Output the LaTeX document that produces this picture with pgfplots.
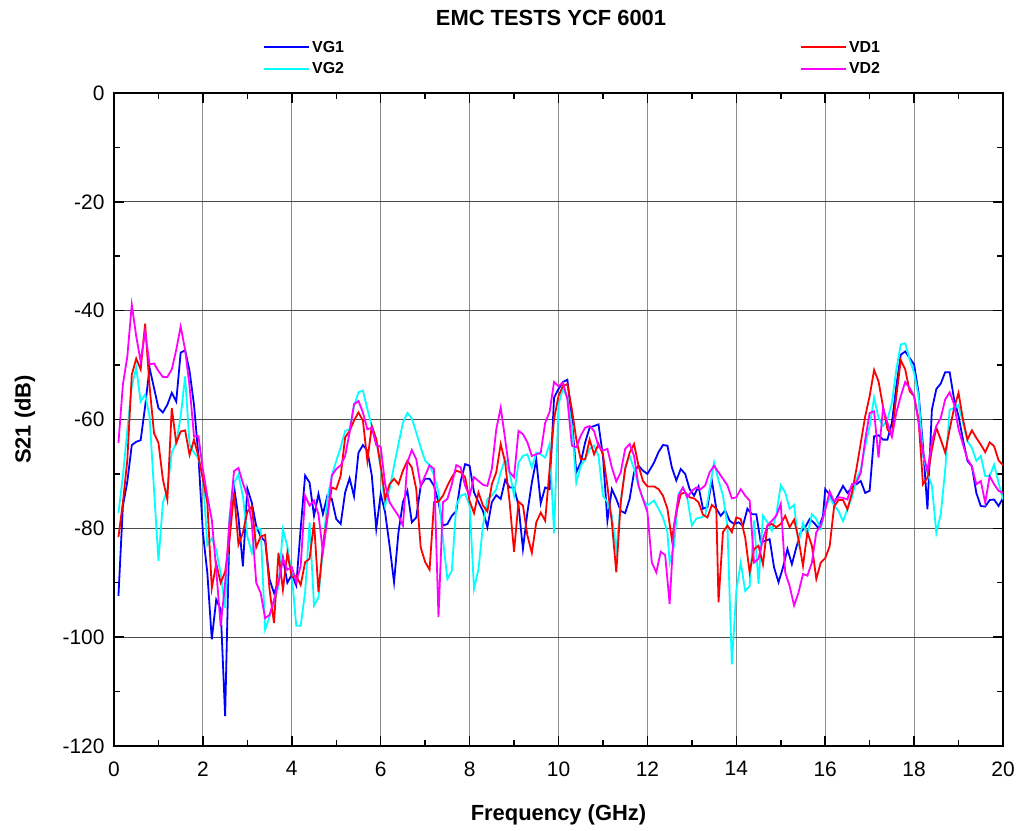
\documentclass[border=0pt]{standalone}
\usepackage{fontspec}
\setmainfont{Liberation Sans}
\usepackage{pgfplots}
\usepackage{pgfplotstable}
\pgfplotsset{compat=1.18}
\definecolor{cone}{RGB}{0,0,255}
\definecolor{ctwo}{RGB}{0,255,255}
\definecolor{cthree}{RGB}{255,0,0}
\definecolor{cfour}{RGB}{255,0,255}

\pgfplotstableread{
x y
0.1 -92.4
0.2 -75.9
0.3 -71.4
0.4 -64.7
0.5 -64.1
0.6 -63.8
0.7 -57.6
0.8 -50.5
0.9 -54.2
1.0 -57.9
1.1 -58.7
1.2 -57.3
1.3 -55.1
1.4 -56.7
1.5 -47.7
1.6 -47.3
1.7 -51.1
1.8 -57.3
1.9 -66.8
2.0 -80.8
2.1 -88.2
2.2 -100.4
2.3 -93.1
2.4 -94.9
2.5 -114.5
2.6 -79
2.7 -72.3
2.8 -78
2.9 -87
3.0 -72.7
3.1 -75.3
3.2 -79.6
3.3 -81.5
3.4 -82.4
3.5 -89.4
3.6 -91.9
3.7 -90
3.8 -85.4
3.9 -90
4.0 -88.5
4.1 -90.5
4.2 -80
4.3 -70.3
4.4 -71.6
4.5 -77.7
4.6 -73.7
4.7 -77.4
4.8 -74
4.9 -74.6
5.0 -78.3
5.1 -79.2
5.2 -73.4
5.3 -70.8
5.4 -74.1
5.5 -66.1
5.6 -64.7
5.7 -65.7
5.8 -70.3
5.9 -80.1
6.0 -73.7
6.1 -77.1
6.2 -83.2
6.3 -89.9
6.4 -80.7
6.5 -75.2
6.6 -73.1
6.7 -78.9
6.8 -78
6.9 -72.2
7.0 -70.9
7.1 -70.9
7.2 -72.2
7.3 -75.2
7.4 -79.5
7.5 -79.2
7.6 -77.7
7.7 -76.8
7.8 -71.3
7.9 -68.2
8.0 -68.5
8.1 -73.4
8.2 -75.2
8.3 -76.8
8.4 -79.8
8.5 -75.2
8.6 -73.9
8.7 -74.6
8.8 -71.1
8.9 -72.5
9.0 -72.5
9.1 -75.8
9.2 -83.8
9.3 -77.1
9.4 -71.6
9.5 -67.4
9.6 -75.4
9.7 -72.5
9.8 -72.8
9.9 -56
10.0 -54.4
10.1 -53.1
10.2 -52.7
10.3 -59.9
10.4 -69.7
10.5 -67.9
10.6 -64.2
10.7 -61.5
10.8 -61.2
10.9 -60.9
11.0 -66.7
11.1 -78.6
11.2 -72.8
11.3 -74.6
11.4 -76.8
11.5 -77.2
11.6 -74.6
11.7 -69.7
11.8 -68.5
11.9 -69.4
12.0 -70
12.15 -67.9
12.25 -66
12.35 -64.7
12.45 -64.8
12.55 -68.8
12.65 -71.2
12.75 -69.1
12.85 -70
12.95 -72.8
13.05 -74
13.15 -72.3
13.25 -76.4
13.35 -76.1
13.45 -71.2
13.55 -76.4
13.65 -77.7
13.75 -76.7
13.85 -78.6
13.95 -79.2
14.05 -78.9
14.15 -79.5
14.25 -76.4
14.35 -77.4
14.45 -77.4
14.55 -82.6
14.65 -82.3
14.75 -82
14.85 -87.2
14.95 -89.9
15.05 -87.2
15.15 -83.8
15.25 -86.6
15.35 -83.5
15.45 -80.7
15.55 -79.8
15.65 -78.3
15.75 -79
15.85 -80
15.95 -77.7
16.0 -72.8
16.1 -73.8
16.2 -75.3
16.3 -73.8
16.4 -72.2
16.5 -73.5
16.6 -72.5
16.7 -71.9
16.8 -71.3
16.9 -73.5
17.0 -73.1
17.1 -63.1
17.2 -62.9
17.3 -63.7
17.4 -63.7
17.5 -60.6
17.6 -53.9
17.7 -48.1
17.8 -47.5
17.9 -48.7
18.0 -49.9
18.1 -55.1
18.2 -64.9
18.3 -76.5
18.4 -58.2
18.5 -54.4
18.6 -53.4
18.7 -51.3
18.8 -51.3
18.9 -56.3
19.0 -59.4
19.1 -63.7
19.2 -67.6
19.3 -68.6
19.4 -73.5
19.5 -75.9
19.6 -76
19.7 -74.8
19.8 -74.7
19.9 -75.9
20.0 -74.4
}\vgone

\pgfplotstableread{
x y
0.1 -77.2
0.2 -70.4
0.3 -61.9
0.4 -53.9
0.5 -50.5
0.6 -56.7
0.7 -55.4
0.8 -59.4
0.9 -72.9
1.0 -86
1.1 -75.3
1.2 -72.9
1.3 -66.1
1.4 -64.3
1.5 -59.4
1.6 -52.1
1.7 -64.6
1.8 -66.1
1.9 -67.1
2.0 -70.4
2.1 -83.1
2.2 -81.8
2.3 -84
2.4 -88.3
2.5 -94.6
2.6 -77.8
2.7 -71.7
2.8 -70.1
2.9 -74.1
3.0 -81.5
3.1 -84.5
3.2 -79.9
3.3 -80.2
3.4 -98.6
3.5 -96.2
3.6 -93.7
3.7 -90.6
3.8 -80.2
3.9 -83.3
4.0 -88.5
4.1 -97.9
4.2 -97.9
4.3 -91.7
4.4 -78.9
4.5 -94.2
4.6 -92.7
4.7 -83.8
4.8 -74.6
4.9 -70.3
5.0 -67.6
5.1 -65.1
5.2 -62.1
5.3 -61.8
5.4 -57.5
5.5 -55
5.6 -54.7
5.7 -58.1
5.8 -61.2
5.9 -63.6
6.0 -69.1
6.1 -75.8
6.2 -72.8
6.3 -68.5
6.4 -64.5
6.5 -60.6
6.6 -58.8
6.7 -59.8
6.8 -62.4
6.9 -65.1
7.0 -67.6
7.1 -68.4
7.2 -70.3
7.3 -73.4
7.4 -82
7.5 -89.3
7.6 -87.8
7.7 -75.8
7.8 -74
7.9 -73.7
8.0 -75.8
8.1 -91.1
8.2 -87.5
8.3 -79.5
8.4 -74.6
8.5 -74
8.6 -72.8
8.7 -69.7
8.8 -67.2
8.9 -69.7
9.0 -74
9.1 -67.9
9.2 -66.7
9.3 -66.4
9.4 -68.8
9.5 -66.1
9.6 -66.4
9.7 -67
9.8 -64.5
9.9 -80.9
10.0 -57.2
10.1 -54.3
10.2 -56
10.3 -61.2
10.4 -71.6
10.5 -68.5
10.6 -67.3
10.7 -65.4
10.8 -64.8
10.9 -66.7
11.0 -74
11.1 -75.2
11.2 -77.7
11.3 -84.1
11.4 -75.2
11.5 -68.8
11.6 -66.7
11.7 -69.1
11.8 -72.2
11.9 -74.6
12.0 -75.8
12.15 -74.9
12.25 -76.4
12.35 -78
12.45 -80.7
12.5 -86.3
12.6 -83.2
12.7 -73.7
12.8 -72.5
12.9 -74.6
13.0 -79.5
13.1 -78.2
13.2 -78
13.3 -77.7
13.4 -72.8
13.5 -67.9
13.6 -71.2
13.7 -74
13.8 -79.5
13.9 -105
14.0 -91.5
14.1 -86.3
14.2 -91.5
14.3 -90.6
14.4 -78.6
14.5 -90.2
14.6 -77.7
14.7 -78.9
14.8 -80.4
14.9 -77.4
15.0 -72.1
15.1 -73.4
15.2 -76.4
15.3 -75.7
15.4 -82.6
15.5 -79
15.6 -81.3
15.7 -77.4
15.8 -78.3
15.9 -80.1
16.0 -76.4
16.1 -74.3
16.2 -75.8
16.3 -76.8
16.4 -78.7
16.5 -76.5
16.6 -74.4
16.7 -71
16.8 -69.2
16.9 -64.9
17.0 -61.2
17.1 -56
17.2 -59.7
17.3 -61.2
17.4 -60
17.5 -56.9
17.6 -50.8
17.7 -46.2
17.8 -46
17.9 -49
18.0 -51.4
18.1 -55.7
18.2 -66.7
18.3 -69.8
18.4 -72.2
18.5 -80.8
18.6 -77.4
18.7 -69.2
18.8 -58.2
18.9 -57.9
19.0 -57.3
19.1 -60.6
19.2 -64
19.3 -65.2
19.4 -67.6
19.5 -66.7
19.6 -70.4
19.7 -70.4
19.8 -68.3
19.9 -71.6
20.0 -74.7
}\vgtwo

\pgfplotstableread{
x y
0.1 -81.6
0.2 -75.3
0.3 -67.4
0.4 -51.8
0.5 -48.8
0.6 -50.8
0.7 -42.4
0.8 -53.9
0.9 -62.5
1.0 -64.3
1.1 -71
1.2 -74.7
1.3 -57.9
1.4 -64.3
1.5 -62.2
1.6 -62
1.7 -66.5
1.8 -63.7
1.9 -66.8
2.0 -71
2.1 -75.3
2.2 -91
2.3 -86.5
2.4 -90
2.5 -88
2.6 -82
2.7 -73.5
2.8 -83
2.9 -80.8
3.0 -76.9
3.1 -76
3.2 -83.5
3.3 -81.5
3.4 -81.2
3.5 -91.3
3.6 -97.4
3.7 -84.5
3.8 -91.3
3.9 -84.5
4.0 -89
4.1 -88.7
4.2 -90.4
4.3 -86.2
4.4 -85.6
4.5 -78.9
4.6 -91.7
4.7 -83.2
4.8 -77.7
4.9 -72.5
5.0 -72.8
5.1 -70.3
5.2 -63.3
5.3 -62.1
5.4 -60.2
5.5 -58.7
5.6 -60.2
5.7 -67.6
5.8 -61.2
5.9 -63.6
6.0 -68.5
6.1 -74.6
6.2 -71.9
6.3 -70.9
6.4 -71.9
6.5 -69.4
6.6 -67.6
6.7 -68.8
6.8 -72.8
6.9 -83.5
7.0 -86.2
7.1 -87.6
7.2 -75.2
7.3 -75.1
7.4 -74
7.5 -72.2
7.6 -70.6
7.7 -69.4
7.8 -69.7
7.9 -70.6
8.0 -75
8.1 -77.2
8.2 -73.4
8.3 -75.8
8.4 -76.9
8.5 -71.9
8.6 -69.7
8.7 -64.5
8.8 -67.9
8.9 -75.2
9.0 -84.3
9.1 -75.1
9.2 -75.8
9.3 -81.3
9.4 -84.5
9.5 -78.9
9.6 -77.1
9.7 -78.6
9.8 -69.1
9.9 -59.9
10.0 -55.7
10.1 -53.8
10.2 -53.5
10.3 -58.1
10.4 -63.6
10.5 -67.3
10.6 -67.3
10.7 -63.7
10.8 -66.4
10.9 -64.5
11.0 -66.4
11.1 -72.2
11.2 -78.9
11.3 -88.1
11.4 -75.2
11.5 -69.1
11.6 -66.1
11.7 -64.5
11.8 -68.5
11.9 -71.3
12.0 -72.3
12.15 -72.3
12.25 -72.8
12.35 -74
12.45 -76.4
12.55 -82
12.65 -77.1
12.75 -73.7
12.85 -73.4
12.95 -74.3
13.05 -74.5
13.15 -75.2
13.25 -77.5
13.35 -78
13.45 -75.7
13.55 -76.4
13.6 -93.6
13.7 -80.7
13.8 -79.5
13.9 -80.7
14.0 -78
14.1 -78.3
14.2 -81.7
14.3 -88.1
14.4 -83.8
14.5 -83.2
14.6 -86.6
14.7 -79.5
14.8 -79.2
14.9 -79.8
15.0 -79.2
15.1 -77.7
15.2 -79.8
15.3 -78.4
15.4 -82
15.5 -86.9
15.6 -80.7
15.7 -83.2
15.8 -89.3
15.9 -86.3
16.0 -85.5
16.1 -83.3
16.2 -76
16.3 -74.8
16.4 -74.8
16.5 -76.5
16.6 -73.5
16.7 -69.2
16.8 -64.3
16.9 -59.4
17.0 -55.7
17.1 -50.9
17.2 -53
17.3 -57.6
17.4 -61.8
17.5 -62.9
17.6 -55.7
17.7 -49.1
17.8 -50.8
17.9 -54.8
18.0 -55.7
18.1 -60
18.2 -71.9
18.3 -70.7
18.4 -65.5
18.5 -61.5
18.6 -63.7
18.7 -66.1
18.8 -61.8
18.9 -57.9
19.0 -55.1
19.1 -60
19.2 -63.7
19.3 -62
19.4 -63.4
19.5 -64.6
19.6 -66
19.7 -64.2
19.8 -64.9
19.9 -67.5
20.0 -68.4
}\vdone

\pgfplotstableread{
x y
0.1 -64.3
0.2 -53.6
0.3 -48.4
0.4 -38.9
0.5 -44.7
0.6 -49.3
0.7 -43.8
0.8 -49.9
0.9 -49.7
1.0 -51.1
1.1 -52.2
1.2 -52.2
1.3 -50.8
1.4 -47.2
1.5 -42.9
1.6 -47.2
1.7 -53.9
1.8 -63.1
1.9 -63.1
2.0 -69.2
2.1 -74.1
2.2 -78.4
2.3 -87.6
2.4 -98
2.5 -90
2.6 -78.4
2.7 -69.5
2.8 -68.9
2.9 -71.7
3.0 -74.1
3.1 -79
3.2 -90
3.3 -91.9
3.4 -96.5
3.5 -95.9
3.6 -93.1
3.7 -90
3.8 -85.6
3.9 -87.6
4.0 -87.1
4.1 -89.9
4.2 -86.9
4.3 -74
4.4 -75.8
4.5 -74.9
4.6 -77.4
4.7 -84.4
4.8 -78.3
4.9 -70.3
5.0 -69.1
5.1 -68.4
5.2 -66.7
5.3 -62.4
5.4 -57.2
5.5 -56.6
5.6 -58.7
5.7 -61.8
5.8 -61.5
5.9 -64.7
6.0 -65
6.1 -71.9
6.2 -75.2
6.3 -76.5
6.4 -77.7
6.5 -79.5
6.6 -67.9
6.7 -65.6
6.8 -67.3
6.9 -72.2
7.0 -70.3
7.1 -68.4
7.2 -69.1
7.3 -96.3
7.4 -75.2
7.5 -74.6
7.6 -71.9
7.7 -68.4
7.8 -68.8
7.9 -72.2
8.0 -74
8.1 -70.6
8.2 -71.3
8.3 -72
8.4 -72.2
8.5 -69.1
8.6 -61.8
8.7 -57.8
8.8 -63.6
8.9 -69.7
9.0 -70.6
9.1 -62.1
9.2 -62.7
9.3 -64.2
9.4 -66.7
9.5 -66.4
9.6 -66.1
9.7 -60.6
9.8 -58.6
9.9 -53.1
10.0 -53.9
10.1 -53.2
10.2 -56.3
10.3 -64.8
10.4 -65.1
10.5 -63
10.6 -61.5
10.7 -61.2
10.8 -62.1
10.9 -65
11.0 -65.7
11.1 -65.4
11.2 -68.8
11.3 -71.4
11.4 -69.7
11.5 -65.4
11.6 -64.5
11.7 -66.7
11.8 -72.2
11.9 -74.6
12.0 -77
12.1 -86.3
12.2 -88.1
12.3 -84.3
12.4 -84.9
12.5 -93.9
12.6 -79.5
12.7 -74
12.8 -72.5
12.9 -74.3
13.0 -73.1
13.1 -72.5
13.2 -72.8
13.3 -72.1
13.4 -69.7
13.5 -68.5
13.6 -69.7
13.7 -70.9
13.8 -72.1
13.9 -74.5
14.0 -74.3
14.1 -72.8
14.2 -74
14.3 -74.9
14.4 -86.3
14.5 -85.6
14.6 -82
14.7 -79.5
14.8 -78.6
14.9 -77.7
15.0 -75.5
15.1 -88.1
15.2 -90.6
15.3 -94.2
15.4 -91.8
15.5 -88.4
15.6 -88.7
15.7 -86.3
15.8 -80.7
15.9 -79.5
16.0 -76.7
16.1 -73.2
16.2 -75.1
16.3 -74.3
16.4 -74.4
16.5 -74.7
16.6 -71.9
16.7 -71.6
16.8 -69.8
16.9 -63.7
17.0 -58.8
17.1 -58.5
17.2 -67
17.3 -57.9
17.4 -60.6
17.5 -63.2
17.6 -58.8
17.7 -55.7
17.8 -53.1
17.9 -54.2
18.0 -55.7
18.1 -60.6
18.2 -66.1
18.3 -69.5
18.4 -64
18.5 -61.2
18.6 -59.7
18.7 -56.3
18.8 -55
18.9 -57.2
19.0 -61.8
19.1 -64.6
19.2 -67.3
19.3 -68.6
19.4 -71.9
19.5 -71.3
19.6 -75.3
19.7 -70.4
19.8 -71.9
19.9 -73.1
20.0 -73.5
}\vdtwo

\begin{document}
\begin{tikzpicture}
\useasboundingbox (0bp,0bp) rectangle (1019bp,831bp);
\begin{axis}[
  at={(114bp,85bp)}, anchor=south west,
  scale only axis, width=889bp, height=653bp,
  xmin=0, xmax=20, ymin=-120, ymax=0,
  xtick={0,2,...,20}, ytick={-120,-100,...,0},
  minor xtick={1,3,...,19}, minor ytick={-110,-90,...,-10},
  xmajorgrids, ymajorgrids,
  x grid style={black!45, line width=1bp},
  y grid style={black!70, line width=1bp},
  tick align=inside,
  major tick length=10bp, minor tick length=6bp,
  every tick/.style={black, line width=1.5bp},
  axis line style={black, line width=2bp},
  ticklabel style={font=\fontsize{21}{24}\selectfont},
  xticklabel style={yshift=-12bp},
  yticklabel style={xshift=-6bp},
  /pgf/number format/assume math mode=true,
  xlabel={Frequency (GHz)},
  ylabel={S21 (dB)},
  label style={font=\fontsize{22}{26}\selectfont\bfseries},
  xlabel style={at={(axis description cs:0.5,-0.1057)}, anchor=center},
  ylabel style={at={(axis description cs:-0.1001,0.5)}, anchor=center},
  legend columns=2, transpose legend,
  legend style={at={(axis description cs:0.1676,1.083)}, anchor=north west,
    draw=none, fill=none, inner sep=0pt, row sep=5bp,
    font=\fontsize{16}{17}\selectfont\bfseries,
    /tikz/column 2/.style={column sep=454bp}},
  no markers,
]
\addplot[cone, line width=1.8bp,
  legend image code/.code={\draw[cone, line width=2bp] (0bp,0bp) -- (45bp,0bp);}] table {\vgone};
\addlegendentry{VG1}
\addplot[ctwo, line width=1.8bp,
  legend image code/.code={\draw[ctwo, line width=2bp] (0bp,0bp) -- (45bp,0bp);}] table {\vgtwo};
\addlegendentry{VG2}
\addplot[cthree, line width=1.8bp,
  legend image code/.code={\draw[cthree, line width=2bp] (0bp,0bp) -- (45bp,0bp);}] table {\vdone};
\addlegendentry{VD1}
\addplot[cfour, line width=1.8bp,
  legend image code/.code={\draw[cfour, line width=2bp] (0bp,0bp) -- (45bp,0bp);}] table {\vdtwo};
\addlegendentry{VD2}
\end{axis}
\node[font=\fontsize{22}{26}\selectfont\bfseries] at (551bp,813bp) {EMC TESTS YCF 6001};
\end{tikzpicture}
\end{document}
